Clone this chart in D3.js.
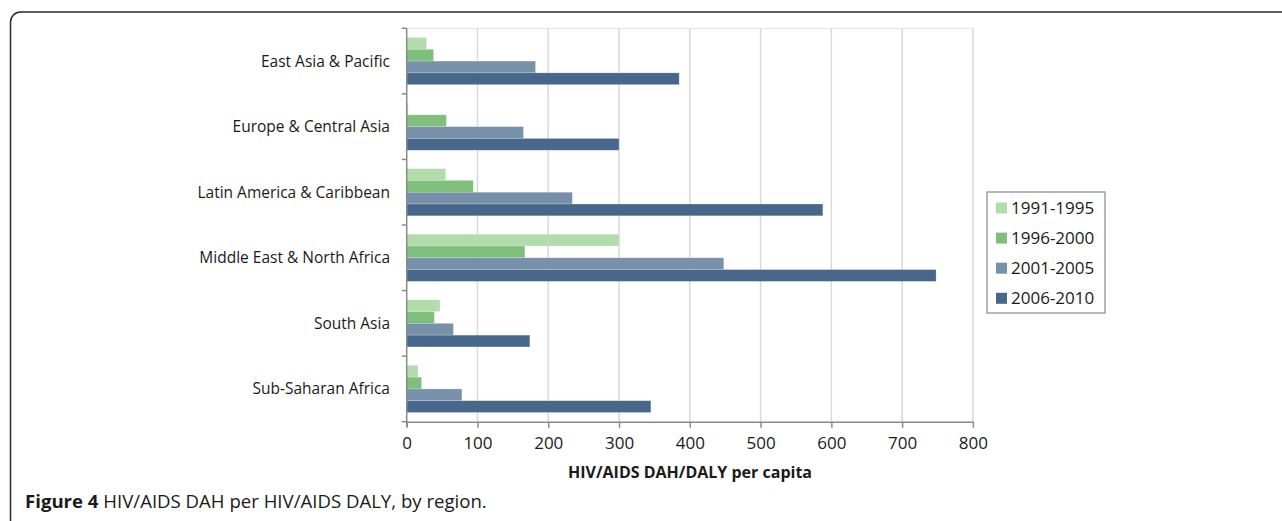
<!DOCTYPE html>
<html><head><meta charset="utf-8">
<script src="https://cdn.jsdelivr.net/npm/d3@7"></script>
<style>
html,body{margin:0;padding:0;background:#fff;}
svg{display:block;font-family:"Open Sans",sans-serif;}
</style></head>
<body><svg id="c" width="1282" height="521"></svg>
<script>
const regions = ["East Asia & Pacific","Europe & Central Asia","Latin America & Caribbean","Middle East & North Africa","South Asia","Sub-Saharan Africa"];
const periods = ["1991-1995","1996-2000","2001-2005","2006-2010"];
const v1991_1995 = [28, 2, 55, 300, 47, 16];
const v1996_2000 = [38, 56, 94, 167, 39, 21];
const v2001_2005 = [182, 165, 234, 448, 66, 78];
const v2006_2010 = [385, 300, 588, 748, 174, 345];
const seriesValues = [v1991_1995, v1996_2000, v2001_2005, v2006_2010];
const xTicks = [0,100,200,300,400,500,600,700,800];
const colors = ["#b2dcab","#7ebf7b","#7891aa","#47688b"];

const svg = d3.select("#c");

// outer frame (rounded, continuing off the right and bottom edges)
svg.append("rect").attr("x",10.5).attr("y",12).attr("width",1300).attr("height",530)
  .attr("rx",10).attr("fill","none").attr("stroke","#2b2b2b").attr("stroke-width",1.5);

const x = d3.scaleLinear().domain([0,800]).range([406.7,972.9]);
const y = d3.scaleBand().domain(regions).range([28.3,421.7]).paddingInner(0).paddingOuter(0);
const yInner = d3.scaleBand().domain(periods).range([0,y.bandwidth()]).paddingInner(0).paddingOuter(0.78);

const plotTop = y.range()[0], plotBottom = y.range()[1];

// gridlines
svg.append("g").selectAll("line").data(xTicks.filter(d=>d>0)).join("line")
  .attr("x1",d=>x(d)).attr("x2",d=>x(d)).attr("y1",plotTop).attr("y2",plotBottom)
  .attr("stroke","#d9d9d9").attr("stroke-width",1.5);
svg.append("line").attr("x1",x(0)).attr("x2",x(800)).attr("y1",plotTop).attr("y2",plotTop)
  .attr("stroke","#e3e3e3").attr("stroke-width",1);

// bars
const groups = svg.append("g").selectAll("g").data(regions).join("g")
  .attr("transform",r=>`translate(0,${y(r)})`);
groups.selectAll("rect").data((r,i)=>periods.map((p,j)=>({p, j, v: seriesValues[j][i]}))).join("rect")
  .attr("x",x(0)).attr("y",d=>yInner(d.p)).attr("height",yInner.bandwidth())
  .attr("width",d=>x(d.v)-x(0)).attr("fill",d=>colors[d.j])
  .attr("stroke","#ffffff").attr("stroke-opacity",0.35).attr("stroke-width",0.6);

// y axis
const yAxisG = svg.append("g");
yAxisG.append("line").attr("x1",x(0)).attr("x2",x(0)).attr("y1",plotTop).attr("y2",plotBottom+5)
  .attr("stroke","#8a8a8a").attr("stroke-width",1.5);
const yb = regions.map(r=>y(r)).concat([plotBottom]);
yAxisG.selectAll("line.t").data(yb).join("line").attr("class","t")
  .attr("x1",x(0)-5).attr("x2",x(0)).attr("y1",d=>d).attr("y2",d=>d)
  .attr("stroke","#8a8a8a").attr("stroke-width",1.5);
yAxisG.selectAll("text").data(regions).join("text")
  .attr("x",390).attr("y",r=>y(r)+y.bandwidth()/2).attr("dy","0.35em")
  .attr("text-anchor","end").attr("font-size",15.5).attr("fill","#1a1a1a").text(r=>r);

// x axis
const xAxis = d3.axisBottom(x).tickValues(xTicks).tickSize(6).tickSizeOuter(0).tickFormat(d3.format("d"));
const xg = svg.append("g").attr("transform",`translate(0,${plotBottom})`).call(xAxis);
xg.select(".domain").attr("stroke","#8a8a8a").attr("stroke-width",1.5);
xg.selectAll(".tick line").attr("stroke","#8a8a8a").attr("stroke-width",1.5);
xg.selectAll(".tick text").attr("font-size",17).attr("font-family","Open Sans").attr("fill","#1a1a1a").attr("dy","1.05em");

svg.append("text").attr("x",690).attr("y",472).attr("dy","0.35em").attr("text-anchor","middle")
  .attr("font-size",16).attr("font-weight","bold").attr("fill","#1a1a1a").text("HIV/AIDS DAH/DALY per capita");

// legend
const lg = svg.append("g");
lg.append("rect").attr("x",987).attr("y",192).attr("width",118).attr("height",121)
  .attr("fill","#fff").attr("stroke","#a0a0a0").attr("stroke-width",1.5);
const ly = d3.scalePoint().domain(periods).range([208,298.3]);
lg.selectAll("rect.s").data(periods).join("rect").attr("class","s")
  .attr("x",996).attr("y",p=>ly(p)-5.5).attr("width",11).attr("height",11)
  .attr("fill",(p,i)=>colors[i]);
lg.selectAll("text").data(periods).join("text")
  .attr("x",1011).attr("y",p=>ly(p)).attr("dy","0.35em").attr("font-size",17).attr("fill","#1a1a1a").text(p=>p);

// caption
const cap = svg.append("text").attr("x",25).attr("y",508).attr("font-size",18.6).attr("fill","#1a1a1a");
cap.append("tspan").attr("font-weight","bold").text("Figure 4");
cap.append("tspan").text(" HIV/AIDS DAH per HIV/AIDS DALY, by region.");
</script></body></html>
